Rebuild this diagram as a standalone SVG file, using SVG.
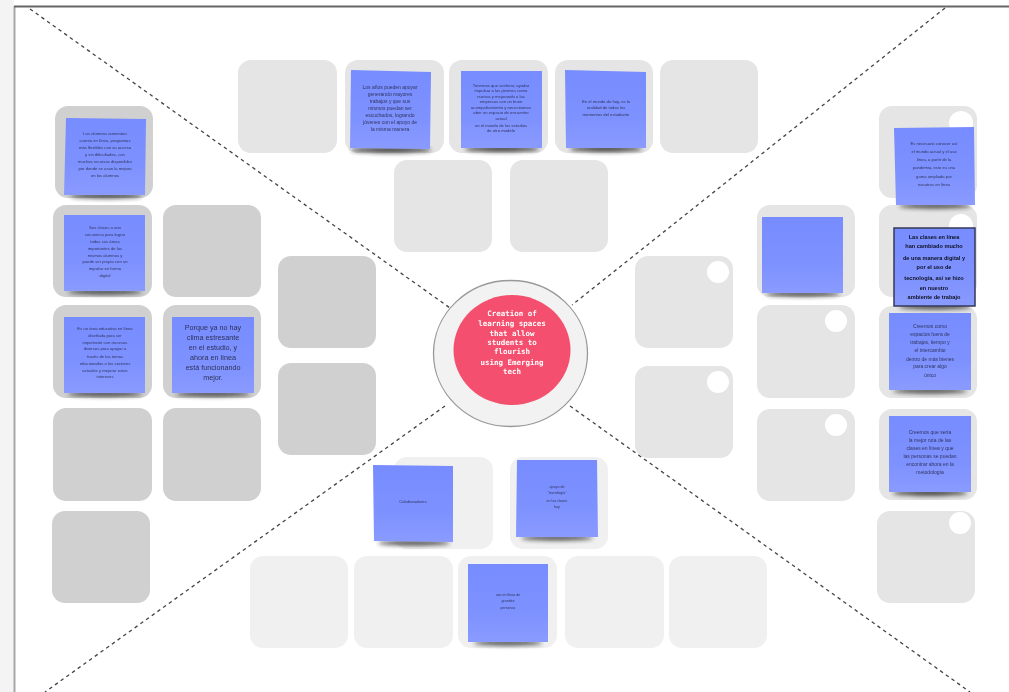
<svg xmlns="http://www.w3.org/2000/svg" width="1009" height="692" viewBox="0 0 1009 692">
<style>
.d{fill:#d0d0d0}.m{fill:#e5e5e5}.l{fill:#f0f0f0}
.hole{fill:#fff}
.s{fill:url(#sg)}
.sh{fill:#222;opacity:.8;filter:url(#sb)}
.t{font-family:"Liberation Sans",Arial,sans-serif;fill:#30355f;text-anchor:middle}
.x3{font-size:3.6px}.x4{font-size:4.2px}.x5{font-size:5px}.x6{font-size:5.6px}.x7{font-size:7.2px;fill:#2c3158}
.b{font-weight:bold;fill:#0e1020;font-size:5.6px}
.c{font-family:"DejaVu Sans Mono","Liberation Mono",monospace;font-weight:bold;font-size:7.5px;fill:#fff;text-anchor:middle}
.ln{stroke:#444;stroke-width:1.300;stroke-dasharray:3.500 3.500;fill:none}
</style>
<defs>
<linearGradient id="sg" x1="0" y1="0" x2="0" y2="1"><stop offset="0" stop-color="#778cff"/><stop offset=".6" stop-color="#7d91ff"/><stop offset="1" stop-color="#8a9bff"/></linearGradient>
<filter id="sb" x="-20%" y="-200%" width="140%" height="500%"><feGaussianBlur stdDeviation="2"/></filter>
<filter id="soft" x="0" y="0" width="100%" height="100%"><feGaussianBlur stdDeviation=".6"/></filter>
</defs>
<g filter="url(#soft)">
<rect width="1009" height="692" fill="#fff"/>
<rect width="14" height="692" fill="#f4f4f4"/>
<path d="M14.500 692V6.500" fill="none" stroke="#a8a8a8" stroke-width="2"/>
<path d="M14 6.500H1009" stroke="#666" stroke-width="2"/>
<g id="connectors">
<path class="ln" d="M30 9L450 308"/><path class="ln" d="M945 8L572 305"/><path class="ln" d="M445 406L45 692"/><path class="ln" d="M570 406L970 692"/>
</g>
<g id="slots-top">
<rect class="m" x="238" y="60" width="99" height="93" rx="13"/><rect class="m" x="345" y="60" width="99" height="93" rx="13"/><rect class="m" x="449" y="60" width="99" height="93" rx="13"/><rect class="m" x="555" y="60" width="98" height="93" rx="13"/><rect class="m" x="660" y="60" width="98" height="93" rx="13"/><rect class="m" x="394" y="160" width="98" height="92" rx="13"/><rect class="m" x="510" y="160" width="98" height="92" rx="13"/>
</g>
<g id="slots-left">
<rect class="d" x="55" y="106" width="98" height="92" rx="13"/><rect class="d" x="53" y="205" width="99" height="92" rx="13"/><rect class="d" x="163" y="205" width="98" height="92" rx="13"/><rect class="d" x="53" y="305" width="99" height="93" rx="13"/><rect class="d" x="163" y="305" width="98" height="93" rx="13"/><rect class="d" x="53" y="408" width="99" height="93" rx="13"/><rect class="d" x="163" y="408" width="98" height="93" rx="13"/><rect class="d" x="52" y="511" width="98" height="92" rx="13"/><rect class="d" x="278" y="256" width="98" height="92" rx="13"/><rect class="d" x="278" y="363" width="98" height="92" rx="13"/>
</g>
<g id="slots-right">
<rect class="m" x="635" y="256" width="98" height="92" rx="13"/><circle class="hole" cx="718" cy="272" r="11"/>
<rect class="m" x="635" y="366" width="98" height="92" rx="13"/><circle class="hole" cx="718" cy="382" r="11"/>
<rect class="m" x="757" y="205" width="98" height="92" rx="13"/>
<rect class="m" x="757" y="305" width="98" height="93" rx="13"/><circle class="hole" cx="836" cy="321" r="11"/>
<rect class="m" x="757" y="409" width="98" height="92" rx="13"/><circle class="hole" cx="836" cy="425" r="11"/>
<rect class="m" x="879" y="106" width="98" height="92" rx="13"/><circle class="hole" cx="961" cy="123" r="12"/>
<rect class="m" x="879" y="205" width="98" height="92" rx="13"/><circle class="hole" cx="961" cy="226" r="12"/>
<rect class="m" x="879" y="306" width="98" height="92" rx="13"/>
<rect class="m" x="879" y="409" width="98" height="91" rx="13"/>
<rect class="m" x="877" y="511" width="98" height="92" rx="13"/><circle class="hole" cx="960" cy="523" r="11"/>
</g>
<g id="slots-bottom">
<rect class="l" x="394" y="457" width="99" height="92" rx="13"/><rect class="l" x="510" y="457" width="98" height="92" rx="13"/><rect class="l" x="250" y="556" width="98" height="92" rx="13"/><rect class="l" x="354" y="556" width="99" height="92" rx="13"/><rect class="l" x="458" y="556" width="99" height="92" rx="13"/><rect class="l" x="565" y="556" width="99" height="92" rx="13"/><rect class="l" x="669" y="556" width="98" height="92" rx="13"/>
</g>
<g id="center">
<ellipse cx="510.500" cy="353.500" rx="77" ry="73" fill="#f2f2f2" stroke="#999" stroke-width="1.300"/>
<ellipse cx="512" cy="350" rx="58.500" ry="55" fill="#f4506e"/>
<text class="c"><tspan x="512" y="316">Creation of</tspan><tspan x="512" y="326">learning spaces</tspan><tspan x="512" y="336">that allow</tspan><tspan x="512" y="345">students to</tspan><tspan x="512" y="354">flourish</tspan><tspan x="512" y="365">using Emerging</tspan><tspan x="512" y="374">tech</tspan></text>
</g>
<g id="note-top-1"><ellipse class="sh" cx="391" cy="150" rx="40" ry="3"/><path class="s" d="M351 70L431 72L430 149L350 148Z"/><text class="t x5"><tspan x="390" y="89">Los años pueden apoyar</tspan><tspan x="390" y="96">generando mayores</tspan><tspan x="390" y="103">trabajos y que sus</tspan><tspan x="390" y="110">mismos puedan ser</tspan><tspan x="390" y="117">escuchados, logrando</tspan><tspan x="390" y="124">jóvenes con el apoyo de</tspan><tspan x="390" y="131">la misma manera</tspan></text></g>
<g id="note-top-2"><ellipse class="sh" cx="502" cy="149" rx="37" ry="3"/><rect class="s" x="461" y="71" width="81" height="77"/><text class="t x4"><tspan x="501" y="87">Tenemos que acelerar, ayudar</tspan><tspan x="501" y="92">impulsar a los jóvenes como</tspan><tspan x="501" y="98">nuevos y mejorando a las</tspan><tspan x="501" y="103">empresas con un buen</tspan><tspan x="501" y="109">acompañamiento y necesitamos</tspan><tspan x="501" y="114">abrir un espacio de encuentro</tspan><tspan x="501" y="120">actual</tspan><tspan x="501" y="127">en el mundo de los estudios</tspan><tspan x="501" y="132">de otro modelo</tspan></text></g>
<g id="note-top-3"><ellipse class="sh" cx="606" cy="149" rx="36" ry="3"/><path class="s" d="M565 70L646 72L646 148L566 148Z"/><text class="t x4"><tspan x="606" y="103">En el mundo de hoy, es la</tspan><tspan x="606" y="109">realidad de todos los</tspan><tspan x="606" y="116">momentos del estudiante</tspan></text></g>
<g id="note-left-1"><ellipse class="sh" cx="106" cy="196" rx="36" ry="2.500"/><path class="s" d="M66 118L146 119L145 195L64 195Z"/><text class="t x4"><tspan x="105" y="135">Los alumnos aumentan</tspan><tspan x="105" y="142">cuenta en línea, programas</tspan><tspan x="105" y="149">más flexibles con su acceso</tspan><tspan x="105" y="156">y sin dificultades, con</tspan><tspan x="105" y="163">muchos recursos disponibles</tspan><tspan x="105" y="170">por donde se usan la mejora</tspan><tspan x="105" y="177">en los alumnos</tspan></text></g>
<g id="note-left-2"><ellipse class="sh" cx="105" cy="292" rx="37" ry="2.500"/><rect class="s" x="64" y="215" width="81" height="76"/><text class="t x4"><tspan x="105" y="229">Sus clases a una</tspan><tspan x="105" y="236">secuencia para lograr</tspan><tspan x="105" y="243">todas sus áreas</tspan><tspan x="105" y="250">importantes de los</tspan><tspan x="105" y="257">mismos alumnos y</tspan><tspan x="105" y="263">puede ser propia con un</tspan><tspan x="105" y="270">impulso en forma</tspan><tspan x="105" y="277">digital</tspan></text></g>
<g id="note-left-3"><ellipse class="sh" cx="105" cy="394" rx="37" ry="2.500"/><rect class="s" x="64" y="317" width="81" height="76"/><text class="t x4"><tspan x="105" y="330">Es un área educativa en línea</tspan><tspan x="105" y="337">diseñada para ser</tspan><tspan x="105" y="344">importante con recursos</tspan><tspan x="105" y="350">diversos para apoyar a</tspan><tspan x="105" y="358">través de los temas</tspan><tspan x="105" y="365">relacionados a los sectores</tspan><tspan x="105" y="372">actuales y mejorar estos</tspan><tspan x="105" y="378">intereses</tspan></text></g>
<g id="note-left-4"><ellipse class="sh" cx="213" cy="394" rx="37" ry="2.500"/><rect class="s" x="172" y="317" width="82" height="76"/><text class="t x7"><tspan x="213" y="330">Porque ya no hay</tspan><tspan x="213" y="340">clima estresante</tspan><tspan x="213" y="350">en el estudio, y</tspan><tspan x="213" y="360">ahora en línea</tspan><tspan x="213" y="370">está funcionando</tspan><tspan x="213" y="380">mejor.</tspan></text></g>
<g id="note-right-1"><ellipse class="sh" cx="935" cy="206" rx="36" ry="2.500"/><path class="s" d="M894 128L974 127L975 205L896 205Z"/><text class="t x4"><tspan x="934" y="145">Es necesario conocer así</tspan><tspan x="934" y="153">el mundo actual y el uso</tspan><tspan x="934" y="161">línea, a partir de la</tspan><tspan x="934" y="169">pandemia, esto es una</tspan><tspan x="934" y="178">gama ampliada por</tspan><tspan x="934" y="186">nosotros en línea</tspan></text></g>
<g id="note-right-2"><ellipse class="sh" cx="935" cy="307" rx="36" ry="2.500"/><rect class="s" x="894" y="228" width="81" height="78" stroke="#34385a" stroke-width="1.500"/><text class="t b"><tspan x="934" y="239">Las clases en línea</tspan><tspan x="934" y="248">han cambiado mucho</tspan><tspan x="934" y="260">de una manera digital y</tspan><tspan x="934" y="269">por el uso de</tspan><tspan x="934" y="280">tecnología, así se hizo</tspan><tspan x="934" y="290">en nuestro</tspan><tspan x="934" y="299">ambiente de trabajo</tspan></text></g>
<g id="note-right-3"><ellipse class="sh" cx="930" cy="391" rx="37" ry="2.500"/><rect class="s" x="889" y="313" width="82" height="77"/><text class="t x5"><tspan x="930" y="328">Creemos como</tspan><tspan x="930" y="336">espacios fuera de</tspan><tspan x="930" y="344">trabajos, tiempo y</tspan><tspan x="930" y="352">el intercambio</tspan><tspan x="930" y="361">dentro de más bienes</tspan><tspan x="930" y="368">para crear algo</tspan><tspan x="930" y="377">único</tspan></text></g>
<g id="note-right-4"><ellipse class="sh" cx="930" cy="493" rx="37" ry="3"/><rect class="s" x="889" y="416" width="82" height="76"/><text class="t x5"><tspan x="930" y="434">Creemos que sería</tspan><tspan x="930" y="442">la mejor ruta de las</tspan><tspan x="930" y="450">clases en línea y que</tspan><tspan x="930" y="458">las personas se puedan</tspan><tspan x="930" y="466">encontrar ahora en la</tspan><tspan x="930" y="474">metodología</tspan></text></g>
<g id="note-right-5"><ellipse class="sh" cx="803" cy="294" rx="37" ry="2.500"/><rect class="s" x="762" y="217" width="81" height="76"/></g>
<g id="note-bottom-1"><ellipse class="sh" cx="414" cy="543" rx="36" ry="2.500"/><path class="s" d="M373 465L453 466L453 542L374 541Z"/><text class="t x4" x="413" y="503">Colaboradores</text></g>
<g id="note-bottom-2"><ellipse class="sh" cx="557" cy="538" rx="36" ry="2.500"/><path class="s" d="M517 460L597 460L598 537L516 537Z"/><text class="t x3"><tspan x="557" y="488">apoyo de</tspan><tspan x="557" y="494">"tecnología"</tspan><tspan x="557" y="502">en las clases</tspan><tspan x="557" y="508">hoy</tspan></text></g>
<g id="note-bottom-3"><ellipse class="sh" cx="508" cy="643" rx="34" ry="2.500"/><rect class="s" x="468" y="564" width="80" height="78"/><text class="t x3"><tspan x="508" y="596">uso en línea de</tspan><tspan x="508" y="602">grandes</tspan><tspan x="508" y="609">personas</tspan></text></g>
</g>
</svg>
